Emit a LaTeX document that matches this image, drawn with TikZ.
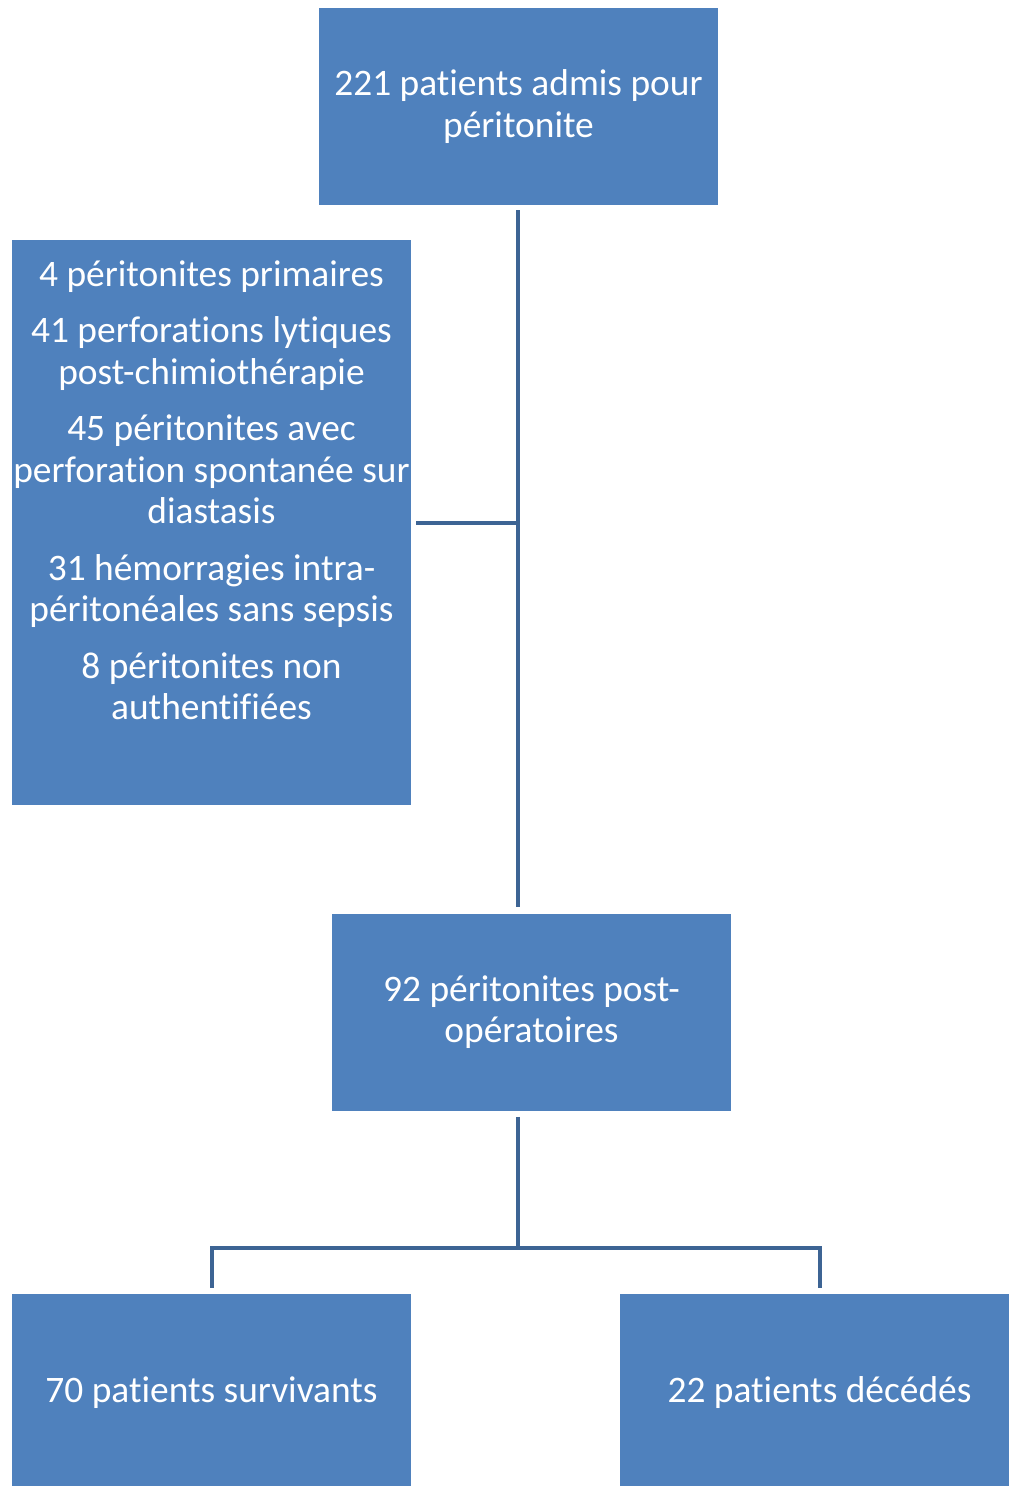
\documentclass[tikz,border=0pt]{standalone}
\usepackage{fontspec}
\setmainfont{Carlito}[RawFeature=-liga]
\definecolor{boxblue}{HTML}{4F81BD}
\definecolor{lineblue}{HTML}{3D6494}
\begin{document}
\begin{tikzpicture}[x=0.5pt,y=-0.5pt,
  box/.style={fill=boxblue,text=white,minimum width=199.5pt,minimum height=98.5pt,
    inner sep=0pt,align=center,font=\fontsize{18.7}{20.8}\selectfont},
  txt/.style={text=white,inner sep=0pt,align=center,font=\fontsize{18.7}{20.7}\selectfont},
  conn/.style={draw=lineblue,line width=2pt,line join=miter}]
  \useasboundingbox (0,0) rectangle (1008,1486);
  \node[box] (adm) at (518.5,106.5) {221 patients admis pour\\péritonite};
  \node[box,minimum height=282.5pt] (excl) at (211.5,522.5) {};
  \node[txt,anchor=north] (excltxt) at (211.5,260) {4 péritonites primaires\\[7.6pt]
    41 perforations lytiques\\post-chimiothérapie\\[7.6pt]
    45 péritonites avec\\perforation spontanée sur\\diastasis\\[7.6pt]
    31 hémorragies intra-\\péritonéales sans sepsis\\[7.6pt]
    8 péritonites non\\authentifiées};
  \node[box] (ppo) at (531.5,1012) {92 péritonites post-\\opératoires};
  \node[box] (surv) at (211.5,1392.5) {70 patients survivants};
  \node[box] (dec) at (819.5,1392.5) {22 patients décédés};
  \coordinate (split) at (518,1248);
  \draw[conn,shorten <=5pt/2,shorten >=6pt/2] ([xshift=-0.5pt/2]adm.south) -- ([xshift=-0.5pt/2]adm.south |- ppo.north);
  \draw[conn,shorten <=5pt/2] (excl.east) -- (adm.south |- excl.east);
  \draw[conn,shorten <=6pt/2] ([xshift=-0.5pt/2]adm.south |- ppo.south) -- (split);
  \draw[conn,shorten <=6pt/2,shorten >=6pt/2] (surv.north) -- (surv.north |- split)
    -- (dec.north |- split) -- (dec.north);
\end{tikzpicture}
\end{document}
